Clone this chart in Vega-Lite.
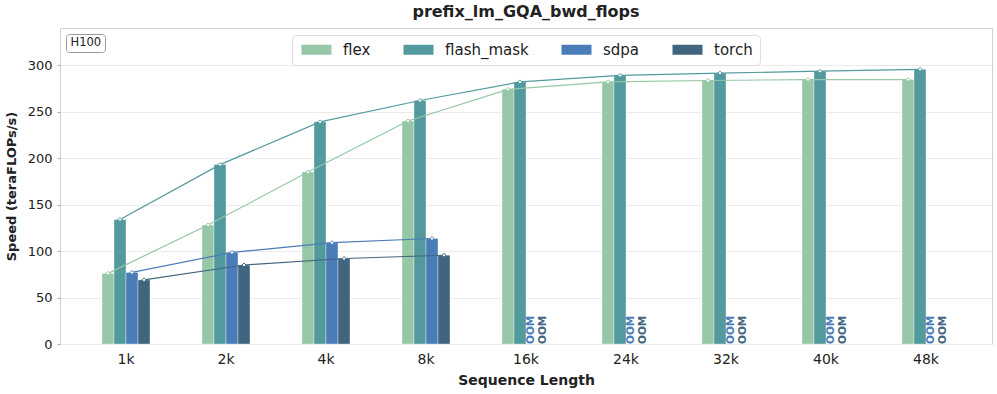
{
  "$schema": "https://vega.github.io/schema/vega-lite/v6.json",
  "width": 932,
  "height": 316,
  "autosize": {"type": "none"},
  "padding": {"left": 60, "top": 28, "right": 5, "bottom": 50},
  "config": {
    "font": "DejaVu Sans",
    "view": {"stroke": "#d0d0d0", "strokeWidth": 1},
    "axis": {"labelFont": "DejaVu Sans", "titleFont": "DejaVu Sans", "labelColor": "#222", "titleColor": "#222"}
  },
  "title": {"text": "prefix_lm_GQA_bwd_flops", "fontSize": 16, "fontWeight": "bold", "color": "#222", "offset": 8, "anchor": "middle"},
  "datasets": {
    "perf": [
      {"seq": "1k", "impl": "flex", "value": 76},
      {"seq": "2k", "impl": "flex", "value": 128},
      {"seq": "4k", "impl": "flex", "value": 185},
      {"seq": "8k", "impl": "flex", "value": 240},
      {"seq": "16k", "impl": "flex", "value": 274},
      {"seq": "24k", "impl": "flex", "value": 282},
      {"seq": "32k", "impl": "flex", "value": 283.5},
      {"seq": "40k", "impl": "flex", "value": 284.5},
      {"seq": "48k", "impl": "flex", "value": 284.5},
      {"seq": "1k", "impl": "flash_mask", "value": 134},
      {"seq": "2k", "impl": "flash_mask", "value": 193},
      {"seq": "4k", "impl": "flash_mask", "value": 239},
      {"seq": "8k", "impl": "flash_mask", "value": 262},
      {"seq": "16k", "impl": "flash_mask", "value": 282},
      {"seq": "24k", "impl": "flash_mask", "value": 289},
      {"seq": "32k", "impl": "flash_mask", "value": 291.5},
      {"seq": "40k", "impl": "flash_mask", "value": 293.5},
      {"seq": "48k", "impl": "flash_mask", "value": 295.5},
      {"seq": "1k", "impl": "sdpa", "value": 77},
      {"seq": "2k", "impl": "sdpa", "value": 98.5},
      {"seq": "4k", "impl": "sdpa", "value": 109},
      {"seq": "8k", "impl": "sdpa", "value": 113.5},
      {"seq": "1k", "impl": "torch", "value": 69},
      {"seq": "2k", "impl": "torch", "value": 85},
      {"seq": "4k", "impl": "torch", "value": 92},
      {"seq": "8k", "impl": "torch", "value": 95.5}
    ],
    "oom": [
      {"seq": "16k", "impl": "sdpa", "label": "OOM"},
      {"seq": "16k", "impl": "torch", "label": "OOM"},
      {"seq": "24k", "impl": "sdpa", "label": "OOM"},
      {"seq": "24k", "impl": "torch", "label": "OOM"},
      {"seq": "32k", "impl": "sdpa", "label": "OOM"},
      {"seq": "32k", "impl": "torch", "label": "OOM"},
      {"seq": "40k", "impl": "sdpa", "label": "OOM"},
      {"seq": "40k", "impl": "torch", "label": "OOM"},
      {"seq": "48k", "impl": "sdpa", "label": "OOM"},
      {"seq": "48k", "impl": "torch", "label": "OOM"}
    ],
    "gpu": [{"gpu": "H100"}]
  },
  "encoding": {
    "x": {
      "field": "seq", "type": "nominal",
      "sort": ["1k", "2k", "4k", "8k", "16k", "24k", "32k", "40k", "48k"],
      "scale": {"domain": ["1k", "2k", "4k", "8k", "16k", "24k", "32k", "40k", "48k"], "paddingInner": 0.52, "paddingOuter": 0.42},
      "axis": {"title": "Sequence Length", "labelAngle": 0, "labelFontSize": 14, "ticks": false, "labelPadding": 8, "titleFontSize": 14, "titleFontWeight": "bold", "titlePadding": 7, "domain": false, "grid": false}
    },
    "xOffset": {
      "field": "impl", "type": "nominal",
      "sort": ["flex", "flash_mask", "sdpa", "torch"],
      "scale": {"domain": ["flex", "flash_mask", "sdpa", "torch"], "paddingInner": 0, "paddingOuter": 0}
    }
  },
  "layer": [
    {
      "data": {"name": "perf"},
      "mark": {"type": "bar", "stroke": "white", "strokeWidth": 0.6, "strokeOpacity": 0.6},
      "encoding": {
        "y": {
          "field": "value", "type": "quantitative",
          "scale": {"domain": [0, 340], "nice": false},
          "axis": {"title": "Speed (teraFLOPs/s)", "values": [0, 50, 100, 150, 200, 250, 300], "labelFontSize": 13, "titleFontSize": 13, "titleFontWeight": "bold", "titlePadding": 9, "grid": true, "gridColor": "#ebebeb", "domain": false, "tickSize": 3, "tickColor": "#aaa", "labelPadding": 5}
        },
        "color": {
          "field": "impl", "type": "nominal",
          "scale": {"domain": ["flex", "flash_mask", "sdpa", "torch"], "range": ["#96c7a6", "#529a9e", "#4a7db8", "#41657f"]},
          "legend": {
            "title": null, "orient": "none", "legendX": 232, "legendY": 7, "direction": "horizontal",
            "symbolType": "M-1,-1H5V1H-1Z", "symbolSize": 100, "symbolStrokeWidth": 0, "symbolOpacity": 1,
            "labelFontSize": 15, "labelColor": "#222", "labelOffset": 29, "columnPadding": 30,
            "padding": 7, "strokeColor": "#dddddd", "fillColor": "white", "cornerRadius": 4
          }
        }
      }
    },
    {
      "data": {"name": "perf"},
      "mark": {"type": "line", "strokeWidth": 1.2},
      "encoding": {
        "y": {"field": "value", "type": "quantitative"},
        "color": {"field": "impl", "type": "nominal"}
      }
    },
    {
      "data": {"name": "perf"},
      "mark": {"type": "point", "shape": "diamond", "filled": false, "fill": "white", "fillOpacity": 1, "size": 16, "strokeWidth": 1, "opacity": 1},
      "encoding": {
        "y": {"field": "value", "type": "quantitative"},
        "color": {"field": "impl", "type": "nominal"}
      }
    },
    {
      "data": {"name": "oom"},
      "mark": {"type": "text", "angle": 270, "align": "left", "baseline": "middle", "fontWeight": "bold", "fontSize": 10.5, "dy": -1.5},
      "encoding": {
        "y": {"datum": 0, "type": "quantitative"},
        "text": {"field": "label"},
        "color": {"field": "impl", "type": "nominal"}
      }
    },
    {
      "data": {"name": "gpu"},
      "mark": {"type": "point", "opacity": 0},
      "encoding": {
        "x": {"value": 0},
        "xOffset": {"value": 0},
        "shape": {
          "field": "gpu", "type": "nominal",
          "legend": {"title": null, "orient": "top-left", "offset": 6, "symbolSize": 0, "symbolOpacity": 0, "symbolStrokeWidth": 0, "labelOffset": -10, "labelFontSize": 11.5, "labelColor": "#222", "padding": 3, "strokeColor": "#999999", "cornerRadius": 3, "fillColor": "white"}
        }
      }
    }
  ]
}
